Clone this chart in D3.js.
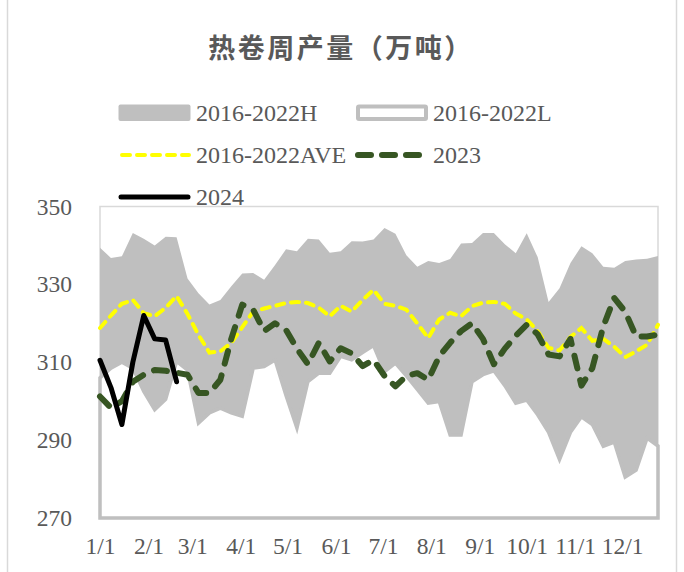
<!DOCTYPE html>
<html>
    <head>
        <meta charset="utf-8">
        <title>热卷周产量</title>
        <script src="https://d3js.org/d3.v7.min.js"></script>
        <style>
            body { margin: 0; background: #fff; }
            text { font-family: "Liberation Serif", "Times New Roman", serif; fill: #595959; }
        </style>
    </head>
    <body>
        <script>
            // weekly categories (M/D)
            const weeks = ["1/1","1/8","1/15","1/22","1/29","2/5","2/12","2/19","2/26","3/5","3/12","3/19","3/26",
                "4/2","4/9","4/16","4/23","4/30","5/7","5/14","5/21","5/28","6/4","6/11","6/18","6/25",
                "7/2","7/9","7/16","7/23","7/30","8/6","8/13","8/20","8/27","9/3","9/10","9/17","9/24",
                "10/1","10/8","10/15","10/22","10/29","11/5","11/12","11/19","11/26","12/3","12/10","12/17","12/24"];
            const tickLabels = ["1/1","2/1","3/1","4/1","5/1","6/1","7/1","8/1","9/1","10/1","11/1","12/1"];

            const high = [339.4,336.8,337.2,343.2,341.7,340.0,342.2,342.1,331.5,327.7,
                324.8,326.0,329.5,332.8,332.9,331.2,335.0,339.0,338.5,341.7,
                341.5,338.1,338.5,341.1,341.0,341.5,344.5,343.0,337.5,334.5,
                336.0,335.5,336.5,340.5,340.6,343.2,343.2,340.3,338.0,343.1,
                337.0,325.5,329.0,335.5,339.8,338.0,334.5,334.3,336.0,336.4,
                336.6,337.3];
            const low = [306.0,308.5,310.0,308.5,302.5,297.8,300.5,310.2,308.0,294.4,
                297.0,298.2,297.0,296.1,308.5,308.9,310.6,301.5,293.1,305.0,
                307.2,307.2,311.5,310.6,312.5,314.3,307.6,309.8,306.5,303.0,
                299.5,299.9,291.3,291.3,305.0,306.8,307.8,304.0,299.5,300.3,
                296.5,292.0,285.0,292.0,296.0,294.0,288.4,289.5,280.5,282.3,
                290.5,288.5];
            const ave = [318.8,322.0,325.0,326.0,322.6,321.8,324.0,327.0,322.4,317.0,
                312.5,312.8,315.0,319.0,323.0,323.8,324.5,325.2,325.5,325.2,
                324.0,321.8,324.5,323.0,326.0,328.6,325.0,324.5,323.5,320.0,
                316.2,321.0,322.7,321.8,324.4,325.3,325.5,325.0,322.5,321.0,
                318.0,313.7,313.0,316.5,318.8,315.5,316.0,314.0,311.3,312.8,
                314.5,319.6];
            const y2023 = [301.2,298.3,300.0,305.0,306.8,308.0,307.8,307.3,306.8,302.1,
                302.1,305.5,316.0,324.8,323.5,318.0,320.0,318.3,313.5,309.5,
                315.0,310.2,313.6,312.3,309.0,310.6,306.5,303.8,306.5,307.2,
                305.5,311.5,315.0,318.0,320.0,316.0,309.5,313.5,316.8,319.6,
                317.2,312.0,311.5,316.0,304.0,308.5,319.2,326.5,323.0,316.6,
                316.6,317.1];
            const y2024 = [310.5,303.5,294.0,310.0,322.0,316.0,315.7,305.0];

            const yTicks = [270, 290, 310, 330, 350];

            const W = 684, H = 572;
            const plot = { left: 100, right: 658, top: 206.5, bottom: 518 };

            const svg = d3.select("body").append("svg")
                .attr("width", W)
                .attr("height", H);

            const parse = d3.timeParse("%Y/%m/%d");
            const dates = weeks.map(w => parse("2023/" + w));

            const x = d3.scaleTime()
                .domain([dates[0], dates[dates.length - 1]])
                .range([plot.left, plot.right]);
            const y = d3.scaleLinear()
                .domain([270, 350])
                .range([plot.bottom, plot.top]);

            // outer chart border
            svg.append("rect")
                .attr("x", 7.5).attr("y", -2)
                .attr("width", 669).attr("height", H + 4)
                .attr("fill", "none")
                .attr("stroke", "#d9d9d9")
                .attr("stroke-width", 1.5);

            // title
            svg.append("text")
                .attr("x", 341).attr("y", 49)
                .attr("dy", "0.35em")
                .attr("text-anchor", "middle")
                .style("font-family", "'Noto Sans CJK SC', sans-serif")
                .style("font-weight", "bold")
                .style("font-size", "27px")
                .style("letter-spacing", "2.5px")
                .text("热卷周产量（万吨）");

            // plot frame
            svg.append("rect")
                .attr("x", plot.left).attr("y", plot.top)
                .attr("width", plot.right - plot.left)
                .attr("height", plot.bottom - plot.top)
                .attr("fill", "none")
                .attr("stroke", "#d9d9d9")
                .attr("stroke-width", 1.5);

            const areaHigh = d3.area()
                .x((d, i) => x(dates[i]))
                .y0(y(270))
                .y1(d => y(d));

            svg.append("path")
                .datum(high)
                .attr("d", areaHigh)
                .attr("fill", "#bfbfbf");

            svg.append("path")
                .datum(low)
                .attr("d", areaHigh)
                .attr("fill", "#ffffff")
                .attr("stroke", "#bfbfbf")
                .attr("stroke-width", 3.5);

            const line = d3.line()
                .x((d, i) => x(dates[i]))
                .y(d => y(d));

            svg.append("path")
                .datum(ave)
                .attr("d", line)
                .attr("fill", "none")
                .attr("stroke", "#ffff00")
                .attr("stroke-width", 4)
                .attr("stroke-linecap", "round")
                .attr("stroke-dasharray", "8,7");

            svg.append("path")
                .datum(y2023)
                .attr("d", line)
                .attr("fill", "none")
                .attr("stroke", "#375623")
                .attr("stroke-width", 6)
                .attr("stroke-linecap", "round")
                .attr("stroke-linejoin", "round")
                .attr("stroke-dasharray", "13,12");

            svg.append("path")
                .datum(y2024)
                .attr("d", line)
                .attr("fill", "none")
                .attr("stroke", "#000000")
                .attr("stroke-width", 5)
                .attr("stroke-linecap", "round")
                .attr("stroke-linejoin", "round");

            // axes
            const yAxis = svg.append("g")
                .attr("transform", "translate(72,0)")
                .call(d3.axisLeft(y).tickValues(yTicks).tickSize(0).tickPadding(0));
            yAxis.select(".domain").remove();
            yAxis.selectAll("text")
                .style("font-size", "23.5px")
                .style("font-family", "'Liberation Serif', serif")
                .attr("fill", "#595959");

            const monthStarts = d3.timeMonth.range(parse("2023/1/1"), parse("2023/12/2"));
            const xAxis = svg.append("g")
                .attr("transform", "translate(0,537)")
                .call(d3.axisBottom(x).tickValues(monthStarts)
                    .tickFormat((d, i) => tickLabels[i]).tickSize(0).tickPadding(0));
            xAxis.select(".domain").remove();
            xAxis.selectAll("text")
                .style("font-size", "23.5px")
                .style("font-family", "'Liberation Serif', serif")
                .attr("fill", "#595959");

            // legend
            const lg = svg.append("g");
            const labelSize = "24px";

            lg.append("rect")
                .attr("x", 118.5).attr("y", 104.5)
                .attr("width", 72).attr("height", 16.5).attr("rx", 2)
                .attr("fill", "#bfbfbf");
            lg.append("rect")
                .attr("x", 358).attr("y", 106.5)
                .attr("width", 68).attr("height", 12.5).attr("rx", 1)
                .attr("fill", "#fff")
                .attr("stroke", "#bfbfbf")
                .attr("stroke-width", 4);
            lg.append("line")
                .attr("x1", 122).attr("x2", 189).attr("y1", 155).attr("y2", 155)
                .attr("stroke", "#ffff00").attr("stroke-width", 4)
                .attr("stroke-linecap", "round").attr("stroke-dasharray", "8,7");
            lg.append("line")
                .attr("x1", 358).attr("x2", 420).attr("y1", 155).attr("y2", 155)
                .attr("stroke", "#375623").attr("stroke-width", 6)
                .attr("stroke-linecap", "round").attr("stroke-dasharray", "13,11");
            lg.append("line")
                .attr("x1", 121).attr("x2", 188).attr("y1", 197).attr("y2", 197)
                .attr("stroke", "#000").attr("stroke-width", 5)
                .attr("stroke-linecap", "round");

            const legendText = [
                { x: 196, y: 113, t: "2016-2022H" },
                { x: 433, y: 113, t: "2016-2022L" },
                { x: 196, y: 155, t: "2016-2022AVE" },
                { x: 433, y: 155, t: "2023" },
                { x: 196, y: 197, t: "2024" }
            ];
            lg.selectAll("text.lt")
                .data(legendText)
                .join("text")
                .attr("class", "lt")
                .attr("x", d => d.x)
                .attr("y", d => d.y)
                .attr("dy", "0.35em")
                .style("font-size", labelSize)
                .text(d => d.t);
        </script>
    </body>
</html>
